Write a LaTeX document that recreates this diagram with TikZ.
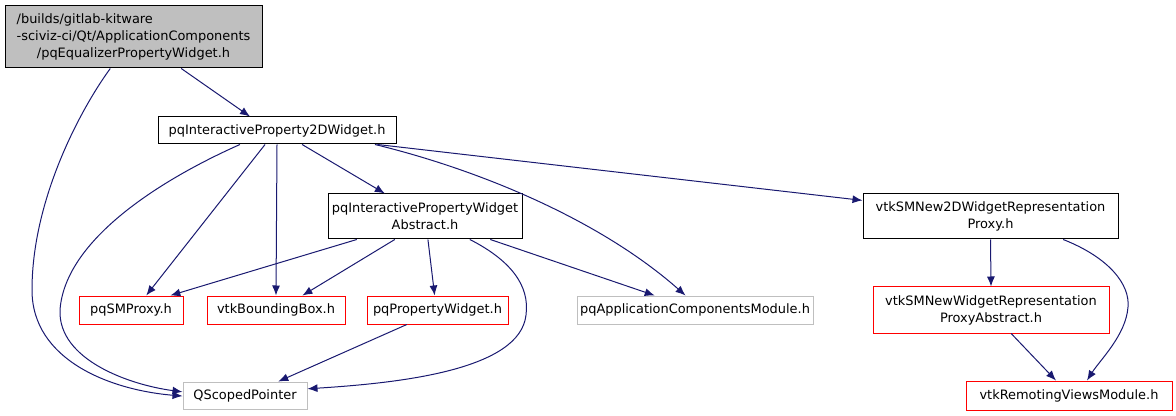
\documentclass[tikz,border=0pt]{standalone}
\usepackage{fontspec}
\setmainfont{DejaVu Sans}
\usetikzlibrary{arrows.meta,calc}
\definecolor{edgeblue}{HTML}{191970}
\definecolor{grayline}{HTML}{BFBFBF}
\tikzset{
	file/.style={rectangle, inner sep=0pt, align=center, line width=0.75pt,
		font=\fontsize{9.7}{12.75}\selectfont, minimum height=20.25pt},
	known/.style={file, draw=black},
	missing/.style={file, draw=red},
	system/.style={file, draw=grayline},
	dep/.style={draw=edgeblue, line width=0.75pt, -{Latex[length=7.5pt,width=6pt]}},
}
\begin{document}
\begin{tikzpicture}[x=0.75pt, y=-0.75pt]
		\useasboundingbox (0,0) rectangle (1176,416);
		%The file itself
		\node [known, fill=grayline, minimum width=192.75pt, minimum height=46.5pt] (root) at (133.5,37)
			{\begin{tabular}{@{}l@{}}/builds/gitlab-kitware\\-sciviz-ci/Qt/ApplicationComponents\\
			\multicolumn{1}{@{}c@{}}{/pqEqualizerPropertyWidget.h}\end{tabular}};
		%Second row
		\node [known, minimum width=178.5pt] (p2d) at (277,130.5) {pqInteractiveProperty2DWidget.h};
		%Third row
		\node [known, minimum width=145.5pt, minimum height=33.75pt] (abs) at (425,216.5)
			{pqInteractivePropertyWidget\\Abstract.h};
		\node [known, minimum width=191.25pt, minimum height=33.75pt] (new2d) at (990.5,216.5)
			{vtkSMNew2DWidgetRepresentation\\Proxy.h};
		%Fourth row
		\node [missing, minimum width=78pt, minimum height=21pt] (smproxy) at (131,310) {pqSMProxy.h};
		\node [missing, minimum width=103.5pt, minimum height=21pt] (bbox) at (276,310) {vtkBoundingBox.h};
		\node [missing, minimum width=105.75pt, minimum height=21pt] (propw) at (437.5,310) {pqPropertyWidget.h};
		\node [system, minimum width=177pt, minimum height=21pt] (appmod) at (695,310) {pqApplicationComponentsModule.h};
		\node [missing, minimum width=177pt, minimum height=34.5pt] (newabs) at (991,310)
			{vtkSMNewWidgetRepresentation\\ProxyAbstract.h};
		%Bottom row
		\node [system, minimum width=93pt] (qsp) at (245,395.5) {QScopedPointer};
		\node [missing, minimum width=154.5pt, minimum height=21.75pt] (remview) at (1069,395.5) {vtkRemotingViewsModule.h};
		%Edges from the file itself
		\draw [dep] ($(root.south west)!.685!(root.south east)$) -- ($(p2d.north west)!.387!(p2d.north east)$);
		\draw [dep] ($(root.south west)!.41!(root.south east)$) .. controls (80,110) and (32,200) .. (32,290)
			.. controls (32,360) and (110,390) .. ($(qsp.north west)!.52!(qsp.south west)$);
		%Edges from pqInteractiveProperty2DWidget.h
		\draw [dep] ($(p2d.south west)!.345!(p2d.south east)$) .. controls (160,180) and (65,240) .. (60,310)
			.. controls (58,360) and (130,385) .. ($(qsp.north west)!.37!(qsp.south west)$);
		\draw [dep] ($(p2d.south west)!.45!(p2d.south east)$) -- ($(smproxy.north west)!.645!(smproxy.north east)$);
		\draw [dep] (p2d.south) -- (bbox.north);
		\draw [dep] ($(p2d.south west)!.605!(p2d.south east)$) -- ($(abs.north west)!.294!(abs.north east)$);
		\draw [dep] ($(p2d.south west)!.91!(p2d.south east)$) .. controls (480,170) and (600,220)
			.. ($(appmod.north west)!.46!(appmod.north east)$);
		\draw [dep] ($(p2d.south west)!.92!(p2d.south east)$) -- ($(new2d.north west)!.15!(new2d.south west)$);
		%Edges from pqInteractivePropertyWidgetAbstract.h
		\draw [dep] ($(abs.south west)!.15!(abs.south east)$) -- ($(smproxy.north west)!.875!(smproxy.north east)$);
		\draw [dep] ($(abs.south west)!.345!(abs.south east)$) -- ($(bbox.north west)!.69!(bbox.north east)$);
		\draw [dep] ($(abs.south west)!.515!(abs.south east)$) -- ($(propw.north west)!.48!(propw.north east)$);
		\draw [dep] ($(abs.south west)!.835!(abs.south east)$) -- ($(appmod.north west)!.33!(appmod.north east)$);
		\draw [dep] ($(abs.south west)!.73!(abs.south east)$) .. controls (510,260) and (530,285) .. (526,315)
			.. controls (520,370) and (400,383) .. ($(qsp.north east)!.26!(qsp.south east)$);
		%Edge from pqPropertyWidget.h
		\draw [dep] ($(propw.south west)!.284!(propw.south east)$) -- ($(qsp.north west)!.766!(qsp.north east)$);
		%Edges on the right
		\draw [dep] (new2d.south) -- (newabs.north);
		\draw [dep] ($(new2d.south west)!.784!(new2d.south east)$) .. controls (1110,258) and (1130,285) .. (1128,307)
			.. controls (1126,335) and (1100,360) .. ($(remview.north west)!.587!(remview.north east)$);
		\draw [dep] ($(newabs.south west)!.585!(newabs.south east)$) -- ($(remview.north west)!.437!(remview.north east)$);
\end{tikzpicture}
\end{document}
